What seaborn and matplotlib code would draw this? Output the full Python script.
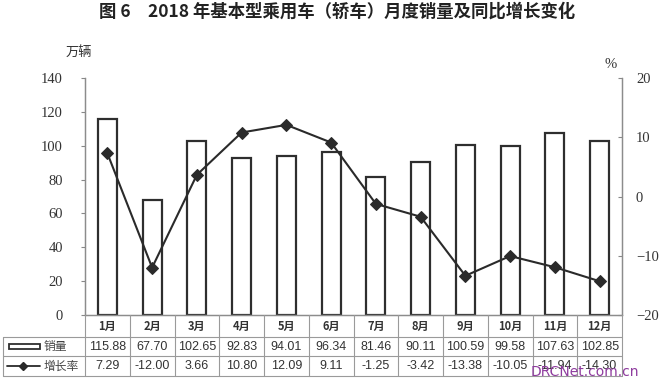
import numpy as np
import pandas as pd
import matplotlib
matplotlib.use("Agg")
import matplotlib.pyplot as plt
from matplotlib.lines import Line2D
from matplotlib.patches import Rectangle
import seaborn as sns

months = ["1月", "2月", "3月", "4月", "5月", "6月", "7月", "8月", "9月", "10月", "11月", "12月"]
sales = [115.88, 67.70, 102.65, 92.83, 94.01, 96.34, 81.46, 90.11, 100.59, 99.58, 107.63, 102.85]
growth = [7.29, -12.00, 3.66, 10.80, 12.09, 9.11, -1.25, -3.42, -13.38, -10.05, -11.94, -14.30]
left_ticks = [0, 20, 40, 60, 80, 100, 120, 140]
right_ticks = [-20, -10, 0, 10, 20]
title = "图 6　2018 年基本型乘用车（轿车）月度销量及同比增长变化"
row_labels = ["销量", "增长率"]

sns.set_theme(style="white")
plt.rcParams["font.family"] = ["Noto Sans CJK SC", "DejaVu Sans"]

W, H = 659, 383
fig = plt.figure(figsize=(W / 100, H / 100), dpi=100)
fig.patch.set_facecolor("white")

def fx(px):
    return px / W

def fy(py):
    return 1 - py / H

L, R, T, B = 85, 622, 78, 315
ax = fig.add_axes([fx(L), fy(B), fx(R) - fx(L), fy(T) - fy(B)])
df = pd.DataFrame({"month": months, "sales": sales})
sns.barplot(data=df, x="month", y="sales", ax=ax, color="white", edgecolor="#2e2e2e",
            linewidth=1.6, width=0.43, saturation=1)
ax.set_xlim(-0.5, 11.5)
ax.set_ylim(0, 140)
ax.set_yticks(left_ticks)
ax.set_yticklabels([str(v) for v in left_ticks])
ax.set_xticks([])
ax.set_xlabel("")
ax.set_ylabel("")
ax.tick_params(axis="y", which="both", left=True, direction="out", length=3, width=0.8,
               color="#888888", pad=13, labelsize=10.5, labelcolor="#333333",
               labelfontfamily="Liberation Serif")

ax2 = ax.twinx()
sns.lineplot(x=np.arange(12), y=growth, ax=ax2, color="#2a2a2a", marker="D", markersize=6,
             linewidth=1.5, markeredgecolor="#2a2a2a")
ax2.set_ylim(-20, 20)
ax2.set_yticks(right_ticks)
ax2.set_yticklabels([f"{v}".replace("-", "−") for v in right_ticks])
ax2.tick_params(axis="y", which="both", right=True, direction="in", length=3, width=0.8,
                color="#888888", pad=10, labelsize=10.5, labelcolor="#333333",
                labelfontfamily="Liberation Serif")
ax2.set_xlim(-0.5, 11.5)
ax2.set_ylabel("")

for a in (ax, ax2):
    a.spines["top"].set_visible(False)
    for s in ("left", "right", "bottom"):
        a.spines[s].set_color("#8c8c8c")
        a.spines[s].set_linewidth(0.9)

# Title and unit labels
fig.text(fx(337), fy(12), title, ha="center", va="center", fontsize=12.5, fontweight="bold", color="#222222")
fig.text(fx(79), fy(52), "万辆", ha="center", va="center", fontsize=9.5, color="#333333")
fig.text(fx(611), fy(64), "%", ha="center", va="center", fontsize=10.5, color="#333333",
         family="Liberation Serif")

# Table grid
gc = "#9a9a9a"
colw = (R - L) / 12
def hline(y, x0, x1):
    fig.add_artist(Line2D([fx(x0), fx(x1)], [fy(y), fy(y)], color=gc, linewidth=0.8))
def vline(x, y0, y1):
    fig.add_artist(Line2D([fx(x), fx(x)], [fy(y0), fy(y1)], color=gc, linewidth=0.8))

hline(337, 3, R)
hline(356, 3, R)
hline(376, 3, R)
vline(3, 337, 376)
vline(L, 315, 376)
for k in range(1, 13):
    vline(L + k * colw, 315, 376)

for i, m in enumerate(months):
    cx = L + (i + 0.5) * colw
    fig.text(fx(cx), fy(326), m, ha="center", va="center", fontsize=8, color="#333333", fontweight="bold")
    fig.text(fx(cx), fy(346.5), f"{sales[i]:.2f}", ha="center", va="center", fontsize=9, color="#333333",
             family="Liberation Sans")
    fig.text(fx(cx), fy(366), f"{growth[i]:.2f}", ha="center", va="center", fontsize=9, color="#333333",
             family="Liberation Sans")

# Legend symbols in row labels
fig.add_artist(Rectangle((fx(9), fy(349)), fx(40) - fx(9), fy(344) - fy(349), facecolor="white",
                         edgecolor="#2e2e2e", linewidth=1.3))
fig.text(fx(44), fy(346.5), row_labels[0], ha="left", va="center", fontsize=8.5, color="#444444")
fig.add_artist(Line2D([fx(7), fx(40)], [fy(366), fy(366)], color="#2a2a2a", linewidth=1.3))
fig.add_artist(Line2D([fx(23)], [fy(366)], marker="D", markersize=4.5, color="#2a2a2a"))
fig.text(fx(44), fy(366), row_labels[1], ha="left", va="center", fontsize=8.5, color="#444444")

# Watermark
fig.text(fx(585), fy(372), "DRCNet.com.cn", ha="center", va="center", fontsize=10, color="#8e3b9e",
         family="DejaVu Sans")

fig.savefig("out.png", dpi=100)
